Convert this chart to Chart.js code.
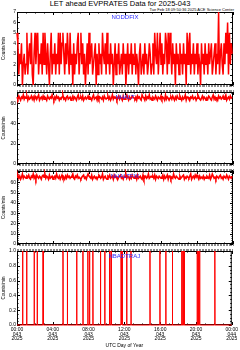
<!DOCTYPE html>
<html>
<head>
<meta charset="utf-8">
<script src="https://cdn.jsdelivr.net/npm/chart.js@4.4.1/dist/chart.umd.min.js"></script>
<style>
html, body { margin: 0; padding: 0; background: #fff; }
#wrap { position: relative; width: 240px; height: 350px; overflow: hidden; font-family: "Liberation Sans", Arial, sans-serif; }
canvas { position: absolute; left: 0; }
#title { position: absolute; left: 0; top: 0; width: 240px; text-align: center; font-size: 7.5px; line-height: 8px; }
#stamp { position: absolute; right: 6px; top: 8px; font-size: 4px; line-height: 4px; white-space: nowrap; }
</style>
</head>
<body>
<div id="wrap">
  <div id="title">LET ahead EVPRATES Data for 2025-043</div>
  <div id="stamp">Tue Feb 18 09:50:36 2025 ACE Science Center</div>
  <canvas id="c1" width="240" height="89" style="top:0px"></canvas>
  <canvas id="c2" width="240" height="80" style="top:88px"></canvas>
  <canvas id="c3" width="240" height="81" style="top:167px"></canvas>
  <canvas id="c4" width="240" height="103" style="top:247px"></canvas>
</div>
<script>
// one sample every 6 minutes, 00:00 to 23:54 UTC, day 043
const stepMinutes = 6;

const noddfix = [
    5,4,1,3,2,4,0,2,3,1,
    2,5,1,3,4,2,5,1,0,3,
    5,2,4,5,1,3,2,4,1,5,
    2,5,3,1,4,2,0,3,5,1,
    3,2,4,1,3,2,5,1,5,2,
    4,5,3,1,4,2,5,3,1,5,
    2,3,0,4,1,3,2,4,5,1,
    3,5,2,4,1,3,0,2,4,1,
    5,2,3,4,1,2,3,4,0,3,
    1,4,2,3,1,5,3,2,4,1,
    5,2,3,1,4,2,3,0,2,4,
    1,3,2,4,1,2,3,1,4,2,
    3,0,2,4,1,3,2,4,1,3,
    2,4,1,3,2,0,3,4,1,2,
    3,1,4,2,3,1,2,4,3,1,
    2,4,1,5,3,2,5,1,3,5,
    2,4,1,3,2,5,4,1,5,2,
    5,3,1,4,2,3,0,4,2,3,
    1,4,2,3,1,4,2,3,0,5,
    2,4,5,1,3,2,4,1,3,2,
    4,1,3,2,0,4,2,3,1,4,
    2,3,1,4,2,3,4,1,2,3,
    4,1,3,2,7,1,3,4,2,1,
    4,2,5,3,6,1,5,2,4,3
];

const nhalt = [
    66,64,67,65,63,66,65,68,64,66,
    65,67,63,66,64,65,67,64,66,63,
    67,65,64,66,68,63,65,66,64,67,
    64,66,65,63,67,65,64,66,65,68,
    65,63,66,64,67,65,66,63,65,64,
    66,68,64,65,63,66,67,64,65,66,
    63,65,67,64,66,65,63,66,68,64,
    65,66,64,67,63,65,66,64,65,67,
    64,66,65,63,66,68,64,65,66,63,
    67,64,66,65,64,66,63,67,65,64,
    65,67,64,66,63,65,68,64,66,65,
    66,63,65,67,64,66,65,63,67,64,
    64,66,68,65,63,66,64,65,67,66,
    65,64,66,63,67,65,66,64,63,68,
    66,65,63,67,64,66,65,68,64,65,
    63,66,65,64,67,65,63,66,65,64,
    67,64,66,65,63,68,64,66,65,63,
    65,66,64,67,65,63,66,64,67,65,
    64,67,65,63,66,64,65,68,63,66,
    66,64,63,66,65,67,64,65,66,63,
    65,68,66,64,63,65,67,64,66,65,
    63,65,64,67,66,64,63,66,68,64,
    66,64,65,63,67,65,66,64,65,67,
    64,66,68,63,65,66,64,67,65,66
];

const nhaltfix = [
    65,67,64,66,63,65,68,64,66,65,
    64,66,65,67,64,63,66,65,68,64,
    66,63,67,65,64,66,65,63,66,67,
    65,68,64,66,65,63,67,64,65,66,
    63,65,66,64,68,65,64,66,63,65,
    67,64,65,63,66,64,67,65,66,64,
    65,66,68,64,63,66,65,67,64,65,
    64,63,65,66,67,64,65,63,66,68,
    66,65,64,67,63,65,66,64,65,63,
    65,67,66,64,65,68,63,65,66,64,
    63,66,65,67,64,65,66,63,67,65,
    66,64,63,65,66,67,64,65,63,66,
    65,68,64,66,65,63,66,64,67,65,
    64,65,66,63,67,64,65,66,64,63,
    67,63,65,66,64,65,68,64,65,66,
    65,66,64,67,63,66,65,64,66,65,
    64,65,67,63,66,64,65,67,63,66,
    66,63,65,64,68,65,64,66,65,64,
    63,66,64,65,66,67,63,65,64,66,
    65,64,66,68,63,65,66,64,67,65,
    67,65,63,66,64,65,64,66,63,65,
    64,66,65,64,67,63,65,68,66,64,
    65,63,66,65,64,66,67,64,65,63,
    66,65,64,67,65,63,66,65,64,66
];

// hours (UTC) at which NBADTRAJ jumped to 1 count/min, otherwise 0
const nbadtrajHours = [
    0.63, 1.08, 1.92, 2.26, 2.92, 5.14, 5.63, 6.67, 7.37, 7.92,
    8.11, 8.48, 9.33, 9.81, 10.33, 10.52, 11.63, 11.74, 12.26, 12.74,
    14.86, 15.97, 16.63, 17.37, 18.41, 18.56, 18.70, 20.14, 20.26, 20.41,
    22.11
];

const tickTimes = ["00:00", "04:00", "08:00", "12:00", "16:00", "20:00", "00:00"];
const tickDays = ["043", "043", "043", "043", "043", "043", "044"];
const tickYears = ["2025", "2025", "2025", "2025", "2025", "2025", "2025"];

const FONT = "'Liberation Sans', Arial, sans-serif";

function toPoints(values) {
    return values.map((v, i) => ({ x: i * stepMinutes / 60, y: v }));
}

function spikePoints(hours) {
    const pts = [{ x: 0, y: 0 }];
    hours.forEach(t => {
        pts.push({ x: t - 0.02, y: 0 }, { x: t, y: 1 }, { x: t + 0.02, y: 0 });
    });
    pts.push({ x: 24, y: 0 });
    return pts;
}

// IDL style box: inward ticks all round, dense minor ticks between panels
const frame = {
    id: "frame",
    beforeDatasetsDraw(chart, args, o) {
        const { ctx, chartArea: a } = chart;
        const x = chart.scales.x, y = chart.scales.y;
        ctx.save();
        ctx.lineWidth = 1;

        ctx.strokeStyle = "#8a8a8a";
        ctx.beginPath();
        for (let m = 0; m <= 1440; m += 10) {
            const px = Math.round(x.getPixelForValue(m / 60)) + 0.5;
            if (o.bandTop) { ctx.moveTo(px, a.top - o.bandTop); ctx.lineTo(px, a.top); }
            if (o.bandBottom) { ctx.moveTo(px, a.bottom); ctx.lineTo(px, a.bottom + o.bandBottom); }
        }
        ctx.stroke();

        ctx.strokeStyle = "#000";
        ctx.beginPath();
        for (let h = 0; h <= 24; h++) {
            const px = Math.round(x.getPixelForValue(h)) + 0.5;
            const len = h % 4 === 0 ? 3 : 1.5;
            ctx.moveTo(px, a.top); ctx.lineTo(px, a.top + len);
            ctx.moveTo(px, a.bottom); ctx.lineTo(px, a.bottom - len);
        }
        const n = Math.round((y.max - y.min) / o.minor);
        for (let k = 0; k <= n; k++) {
            const v = y.min + k * o.minor;
            const py = Math.round(y.getPixelForValue(v)) + 0.5;
            const r = v / o.major;
            const len = Math.abs(r - Math.round(r)) < 1e-6 ? 3 : 1.5;
            ctx.moveTo(a.left, py); ctx.lineTo(a.left + len, py);
            ctx.moveTo(a.right, py); ctx.lineTo(a.right - len, py);
        }
        ctx.stroke();
        ctx.strokeRect(a.left + 0.5, a.top + 0.5, a.width - 1, a.height - 1);
        ctx.restore();
    },
    afterDraw(chart, args, o) {
        const { ctx, chartArea: a } = chart;
        ctx.save();
        ctx.fillStyle = "#2a2aff";
        ctx.font = "6px " + FONT;
        ctx.textAlign = "center";
        ctx.textBaseline = "middle";
        ctx.fillText(o.label, (a.left + a.right) / 2, a.top + 5);
        ctx.restore();
    }
};

function makeChart(id, points, cfg) {
    const showX = !!cfg.showX;
    return new Chart(document.getElementById(id), {
        type: "line",
        data: {
            datasets: [{
                data: points,
                borderColor: "#ff0000",
                borderWidth: cfg.lineWidth || 1,
                pointRadius: 0,
                tension: 0,
                fill: false,
                clip: 2
            }]
        },
        options: {
            responsive: false,
            animation: false,
            events: [],
            layout: { padding: { left: 0, right: 7, top: cfg.padTop, bottom: cfg.padBottom } },
            plugins: {
                legend: { display: false },
                tooltip: { enabled: false },
                frame: { label: cfg.label, major: cfg.step, minor: cfg.minor, bandTop: cfg.bandTop, bandBottom: cfg.bandBottom }
            },
            scales: {
                x: {
                    type: "linear",
                    min: 0,
                    max: 24,
                    display: showX,
                    grid: { display: false, drawTicks: false },
                    border: { display: false },
                    ticks: {
                        stepSize: 4,
                        autoSkip: false,
                        maxRotation: 0,
                        padding: 2,
                        color: "#000",
                        font: { size: 5, family: FONT, lineHeight: 0.95 },
                        callback: (v, i) => [tickTimes[i], tickDays[i], tickYears[i]]
                    },
                    title: {
                        display: showX,
                        text: "UTC Day of Year",
                        color: "#000",
                        font: { size: 5, family: FONT },
                        padding: { top: 0, bottom: 1 }
                    },
                    afterFit: s => { s.height = showX ? 25 : 0; }
                },
                y: {
                    min: cfg.min,
                    max: cfg.max,
                    grid: { display: false, drawTicks: false },
                    border: { display: false },
                    ticks: {
                        stepSize: cfg.step,
                        includeBounds: false,
                        padding: 1,
                        color: "#000",
                        font: { size: 5, family: FONT },
                        callback: cfg.fmt
                    },
                    title: {
                        display: true,
                        text: "Counts/min",
                        color: "#000",
                        font: { size: 4.5, family: FONT },
                        padding: { top: 1.5, bottom: 0 }
                    },
                    afterFit: s => { s.width = 17; }
                }
            }
        },
        plugins: [frame]
    });
}

makeChart("c1", toPoints(noddfix), {
    label: "NODDFIX", min: 0, max: 7, step: 1, minor: 0.5, lineWidth: 1.5,
    padTop: 12, padBottom: 3, bandTop: 0, bandBottom: 2, fmt: v => v
});
makeChart("c2", toPoints(nhalt), {
    label: "NHALT", min: 0, max: 71, step: 20, minor: 5, lineWidth: 1.6,
    padTop: 2, padBottom: 2, bandTop: 2, bandBottom: 2, fmt: v => v
});
makeChart("c3", toPoints(nhaltfix), {
    label: "NHALTFIX", min: 0, max: 71, step: 10, minor: 2, lineWidth: 1.6,
    padTop: 2, padBottom: 2, bandTop: 2, bandBottom: 2, fmt: v => (v < 70 ? v : "")
});
makeChart("c4", spikePoints(nbadtrajHours), {
    label: "NBADTRAJ", min: 0, max: 1, step: 0.2, minor: 0.05,
    padTop: 2, padBottom: 0, bandTop: 2, bandBottom: 0, showX: true,
    fmt: v => v.toFixed(1)
});
</script>
</body>
</html>
